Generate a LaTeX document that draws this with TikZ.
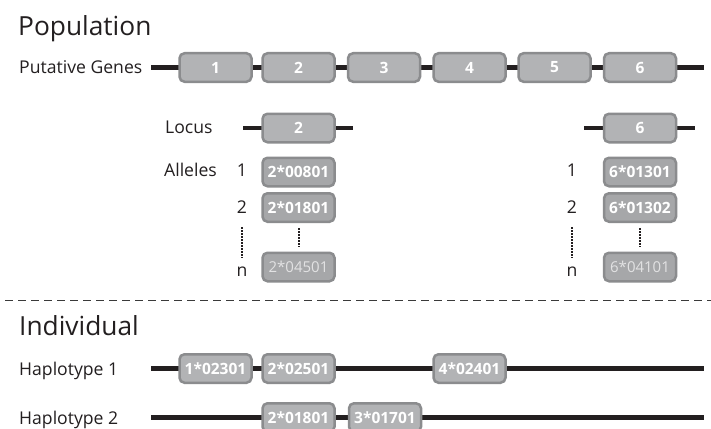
\documentclass[tikz,border=0pt]{standalone}
\usepackage{fontspec}
\setmainfont{Open Sans}
\definecolor{ink}{HTML}{231F20}
\definecolor{boxline}{HTML}{8B8C8E}
\definecolor{genefill}{HTML}{B2B3B5}
\definecolor{allelefill}{HTML}{A6A7A9}
\definecolor{lasttext}{HTML}{E2E2E3}
\definecolor{dashcol}{HTML}{3A3A3A}
\begin{document}
\begin{tikzpicture}[x=1pt,y=-1pt,
  genebox/.style={draw=boxline, fill=genefill, line width=2.5pt, rounded corners=5pt,
    minimum width=72pt, minimum height=28.5pt, inner sep=0pt, text=white,
    font=\fontsize{15.5}{15.5}\selectfont\bfseries},
  allelebox/.style={genebox, fill=allelefill},
  lastbox/.style={allelebox, text=lasttext, font=\fontsize{15}{15}\selectfont},
  backbone/.style={draw=ink, line width=4.5pt},
  txtlabel/.style={anchor=base west, inner sep=0pt, text=ink, font=\fontsize{17.6}{17.6}\selectfont},
  rownum/.style={anchor=base, inner sep=0pt, text=ink, font=\fontsize{17.6}{17.6}\selectfont},
  sectitle/.style={anchor=base west, inner sep=0pt, text=ink, font=\fontsize{26.3}{26.3}\selectfont},
  dotline/.style={draw=ink, line width=2pt, dash pattern=on 1.6pt off 1.4pt, shorten <=5pt, shorten >=5pt}]
\useasboundingbox (0,0) rectangle (711,428);
\clip (0,0) rectangle (711,428);
\fill[white] (0,0) rectangle (711,428);

% Population
\node[sectitle] (pop) at (18,36) {Population};
\node[txtlabel] (pglab) at (19,74) {Putative Genes};
\coordinate (pgS) at (151,67.5);
\coordinate (pgE) at (704,67.5);
\draw[backbone] (pgS) -- (pgE);
\foreach \i/\x in {1/215.5,2/298.5,3/384,4/469.5,5/554.5,6/640}
  \node[genebox] (g\i) at (\x,67.5) {\i};

% Locus
\node[txtlabel] (loclab) at (165,133) {Locus};
\node[txtlabel] (allab) at (164,176) {Alleles};
\coordinate (l2S) at (243,128);
\coordinate (l2E) at (353,128);
\coordinate (l6S) at (584,128);
\coordinate (l6E) at (695,128);
\draw[backbone] (l2S) -- (l2E);
\draw[backbone] (l6S) -- (l6E);
\node[genebox] (loc2) at (298.5,128) {2};
\node[genebox] (loc6) at (640,128) {6};

% Alleles locus 2
\node[rownum] (ln1) at (242,176) {1};
\node[rownum] (ln2) at (242,213) {2};
\node[rownum] (lnn) at (242,276) {n};
\node[allelebox] (a21) at (298.5,172) {2*00801};
\node[allelebox] (a22) at (298.5,207.5) {2*01801};
\node[lastbox] (a2n) at (298.5,267) {2*04501};
\draw[dotline] (a22.south) -- (a2n.north);
\draw[dotline, shorten <=14pt, shorten >=18pt] (ln2.base) -- (lnn.base);

% Alleles locus 6
\node[rownum] (rn1) at (572,176) {1};
\node[rownum] (rn2) at (572,213) {2};
\node[rownum] (rnn) at (572,276) {n};
\node[allelebox] (a61) at (640,172) {6*01301};
\node[allelebox] (a62) at (640,207.5) {6*01302};
\node[lastbox] (a6n) at (640,267) {6*04101};
\draw[dotline] (a62.south) -- (a6n.north);
\draw[dotline, shorten <=14pt, shorten >=18pt] (rn2.base) -- (rnn.base);

% Separator
\coordinate (sepS) at (5,300);
\coordinate (sepE) at (711,300);
\draw[dashcol, line width=1pt, dash pattern=on 8pt off 5pt] (sepS) -- (sepE);

% Individual
\node[sectitle] (ind) at (19,335) {Individual};
\node[txtlabel] (h1lab) at (19,375) {Haplotype 1};
\node[txtlabel] (h2lab) at (19,424) {Haplotype 2};
\coordinate (h1S) at (151,368.5);
\coordinate (h1E) at (704,368.5);
\coordinate (h2S) at (151,417.5);
\coordinate (h2E) at (704,417.5);
\draw[backbone] (h1S) -- (h1E);
\draw[backbone] (h2S) -- (h2E);
\node[genebox] (h11) at (215.5,368.5) {1*02301};
\node[genebox] (h12) at (298.5,368.5) {2*02501};
\node[genebox] (h14) at (469.5,368.5) {4*02401};
\node[genebox] (h22) at (298.5,417.5) {2*01801};
\node[genebox] (h23) at (385,417.5) {3*01701};
\end{tikzpicture}
\end{document}
